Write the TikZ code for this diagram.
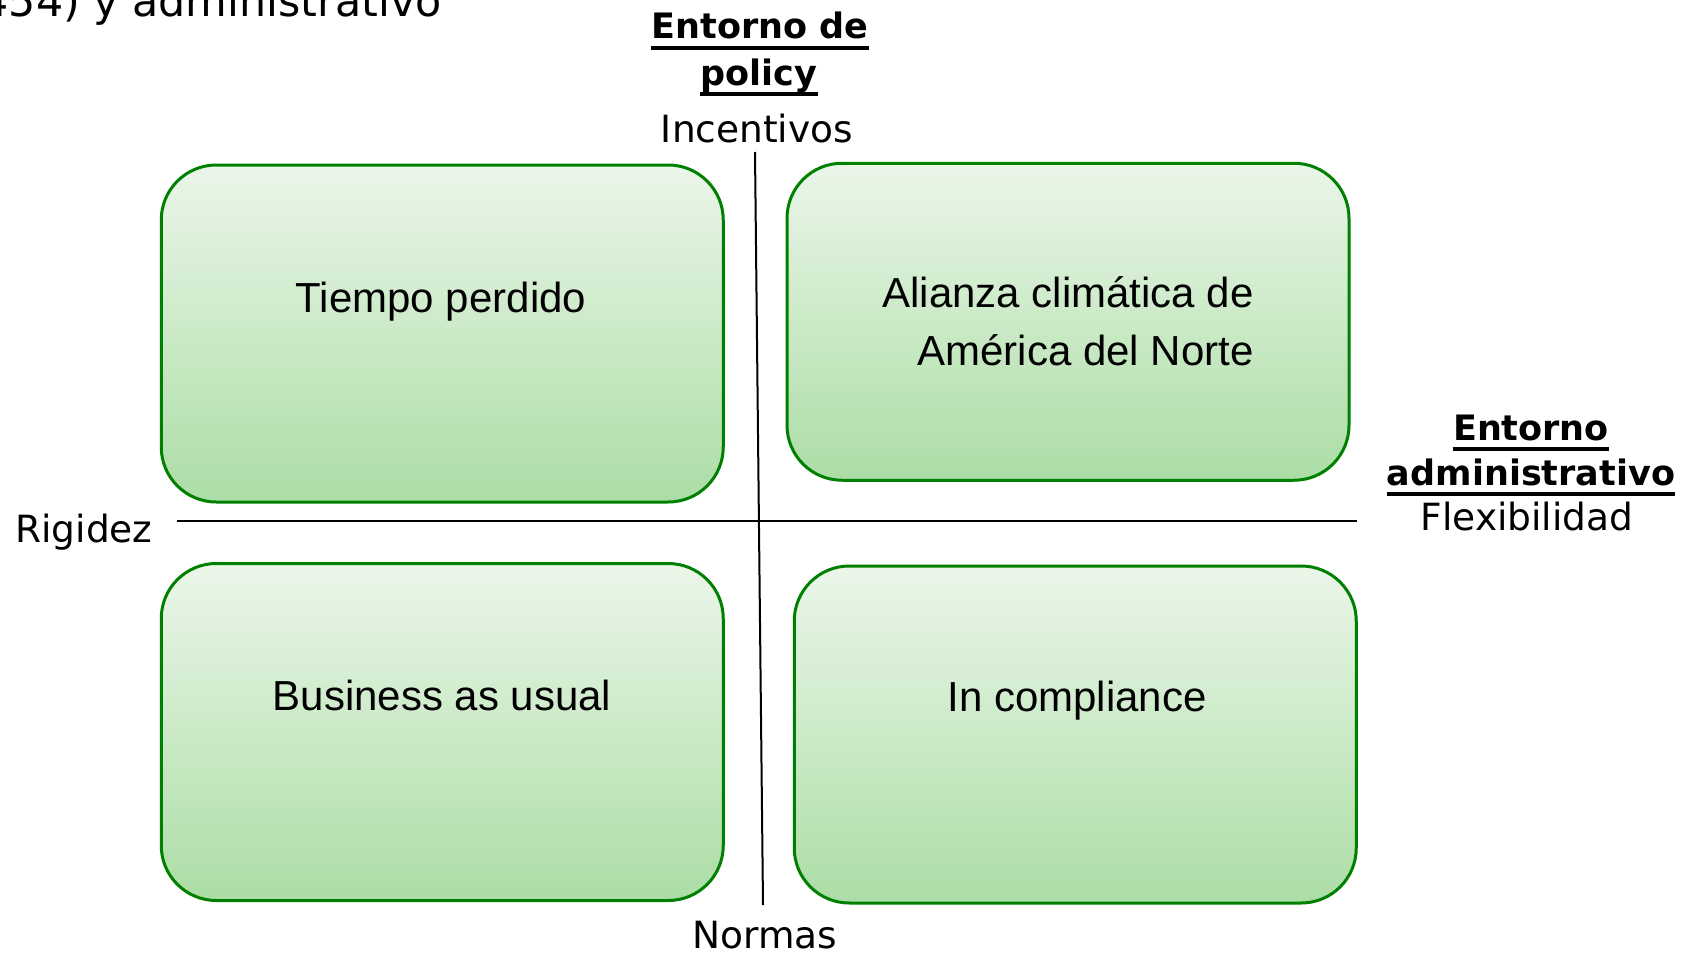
\documentclass[tikz,border=0pt]{standalone}
\usepackage{fontspec}
\setmainfont{Liberation Sans}
\newfontfamily\labfont{DejaVu Sans}
\definecolor{boxtop}{RGB}{235,246,233}
\definecolor{boxbot}{RGB}{172,221,166}
\definecolor{boxline}{RGB}{0,128,0}
\begin{document}
\begin{tikzpicture}[x=0.5pt,y=-0.5pt,
  box/.style={draw=boxline, line width=1.5pt, rounded corners=27.5pt, top color=boxtop, bottom color=boxbot, inner sep=0pt},
  boxtext/.style={font=\fontsize{21}{25}\selectfont, anchor=base, inner sep=0pt},
  lab/.style={font=\labfont\fontsize{18.75}{22}\selectfont, anchor=base, inner sep=0pt},
  head/.style={font=\labfont\bfseries\fontsize{17.5}{21}\selectfont, anchor=base, inner sep=0pt},
  ulline/.style={line width=1.75pt},
  axisline/.style={line width=1pt}]
\useasboundingbox (0,0) rectangle (1693,953);
\clip (0,0) rectangle (1693,953);

% boxes
\node[box, minimum width=281pt, minimum height=168.5pt] (tl) at (442.25,333.5) {};
\node[box, minimum width=281pt, minimum height=158.5pt] (tr) at (1068,321.75) {};
\node[box, minimum width=281pt, minimum height=168.5pt] (bl) at (442.25,732) {};
\node[box, minimum width=281pt, minimum height=168.5pt] (br) at (1075.25,734.5) {};

% box texts
\node[boxtext] (t1) at (441,312) {Tiempo perdido};
\node[boxtext, anchor=base east] (t2a) at (1254,307) {Alianza climática de};
\node[boxtext, anchor=base east] (t2b) at (1254,365) {América del Norte};
\node[boxtext] (t3) at (442,710) {Business as usual};
\node[boxtext] (t4) at (1077,711) {In compliance};

% axes
\coordinate (vt) at (755,152);
\coordinate (vb) at (763,905);
\coordinate (hl) at (177,521);
\coordinate (hr) at (1357,521);
\draw[axisline] (vt) -- (vb);
\draw[axisline] (hl) -- (hr);

% labels
\node[head] (h1) at (760,39) {Entorno de};
\node[head] (h2) at (759,85) {policy};
\node[lab] (inc) at (757,142) {Incentivos};
\node[head] (h3) at (1531,440) {Entorno};
\node[head] (h4) at (1531,485) {administrativo};
\node[lab] (flex) at (1527,530) {Flexibilidad};
\node[lab, anchor=base west] (rig) at (15,542) {Rigidez};
\node[lab] (norm) at (765,948) {Normas};
\node[font=\labfont\fontsize{21.4}{25}\selectfont, anchor=base east, inner sep=0pt] (top) at (442,17) {454) y administrativo};

% underlines
\foreach \n in {h1,h2,h3,h4}
  \draw[ulline] ([yshift=-4.5pt]\n.base west) -- ([yshift=-4.5pt]\n.base east);
\end{tikzpicture}
\end{document}
